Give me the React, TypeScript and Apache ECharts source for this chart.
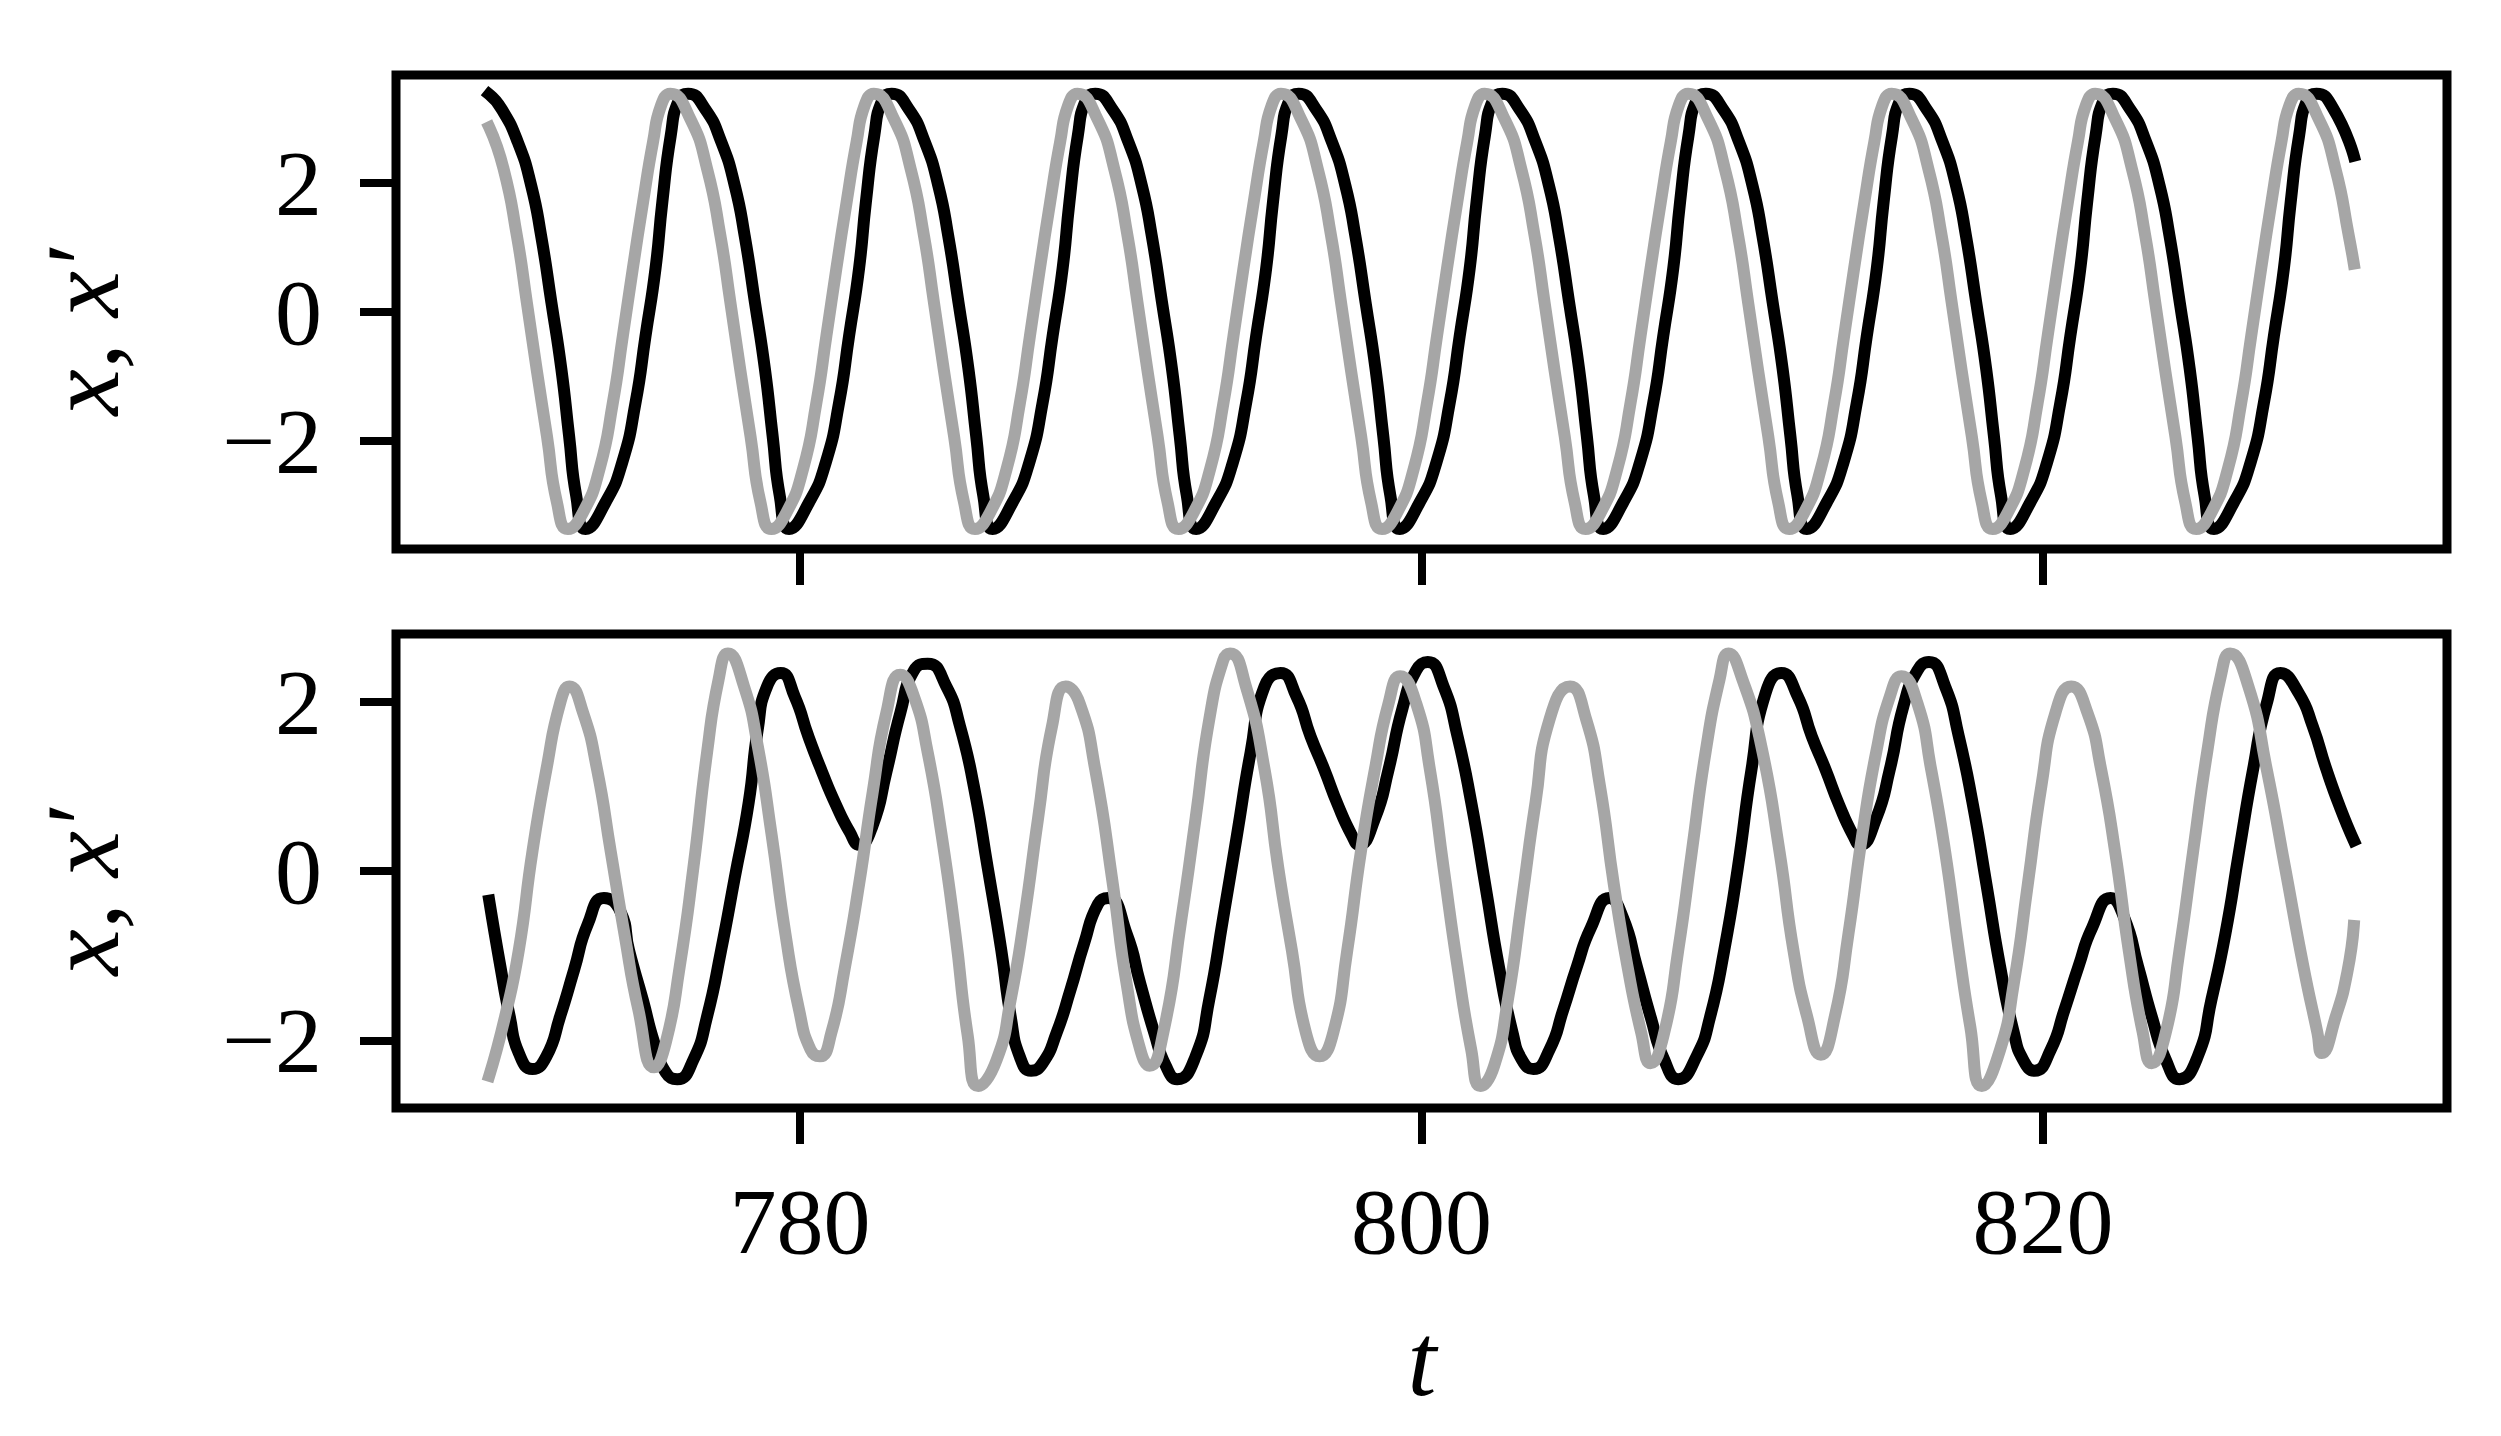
import React, { useEffect, useRef } from "react";
import * as echarts from "echarts";

// ---- data (t, value) ----
const xTicks = [780, 800, 820];
const yTicks = [-2, 0, 2];

const topBlack: number[][] = [
  [770.0, 3.37], [770.39, 3.15], [770.92, 2.63], [771.35, 1.96], [771.67, 1.18], [772.0, 0.15], [772.32, -0.88], [772.57, -1.92], [772.8, -2.85], [773.1, -3.36],
  [773.74, -2.95], [774.28, -2.33], [774.71, -1.4], [775.03, -0.37], [775.35, 0.67], [775.57, 1.7], [775.84, 2.73], [776.1, 3.28], [776.4, 3.38],
  [776.94, 3.15], [777.47, 2.63], [777.9, 1.96], [778.22, 1.18], [778.55, 0.15], [778.87, -0.88], [779.12, -1.92], [779.35, -2.85], [779.65, -3.36],
  [780.29, -2.95], [780.83, -2.33], [781.26, -1.4], [781.58, -0.37], [781.9, 0.67], [782.12, 1.7], [782.39, 2.73], [782.65, 3.28], [782.95, 3.38],
  [783.49, 3.15], [784.02, 2.63], [784.45, 1.96], [784.77, 1.18], [785.1, 0.15], [785.42, -0.88], [785.67, -1.92], [785.9, -2.85], [786.2, -3.36],
  [786.84, -2.95], [787.38, -2.33], [787.81, -1.4], [788.13, -0.37], [788.45, 0.67], [788.67, 1.7], [788.94, 2.73], [789.2, 3.28], [789.5, 3.38],
  [790.04, 3.15], [790.57, 2.63], [791.0, 1.96], [791.32, 1.18], [791.65, 0.15], [791.97, -0.88], [792.22, -1.92], [792.45, -2.85], [792.75, -3.36],
  [793.39, -2.95], [793.93, -2.33], [794.36, -1.4], [794.68, -0.37], [795.0, 0.67], [795.22, 1.7], [795.49, 2.73], [795.75, 3.28], [796.05, 3.38],
  [796.59, 3.15], [797.12, 2.63], [797.55, 1.96], [797.87, 1.18], [798.2, 0.15], [798.52, -0.88], [798.77, -1.92], [799.0, -2.85], [799.3, -3.36],
  [799.94, -2.95], [800.48, -2.33], [800.91, -1.4], [801.23, -0.37], [801.55, 0.67], [801.77, 1.7], [802.04, 2.73], [802.3, 3.28], [802.6, 3.38],
  [803.14, 3.15], [803.67, 2.63], [804.1, 1.96], [804.42, 1.18], [804.75, 0.15], [805.07, -0.88], [805.32, -1.92], [805.55, -2.85], [805.85, -3.36],
  [806.49, -2.95], [807.03, -2.33], [807.46, -1.4], [807.78, -0.37], [808.1, 0.67], [808.32, 1.7], [808.59, 2.73], [808.85, 3.28], [809.15, 3.38],
  [809.69, 3.15], [810.22, 2.63], [810.65, 1.96], [810.97, 1.18], [811.3, 0.15], [811.62, -0.88], [811.87, -1.92], [812.1, -2.85], [812.4, -3.36],
  [813.04, -2.95], [813.58, -2.33], [814.01, -1.4], [814.33, -0.37], [814.65, 0.67], [814.87, 1.7], [815.14, 2.73], [815.4, 3.28], [815.7, 3.38],
  [816.24, 3.15], [816.77, 2.63], [817.2, 1.96], [817.52, 1.18], [817.85, 0.15], [818.17, -0.88], [818.42, -1.92], [818.65, -2.85], [818.95, -3.36],
  [819.59, -2.95], [820.13, -2.33], [820.56, -1.4], [820.88, -0.37], [821.2, 0.67], [821.42, 1.7], [821.69, 2.73], [821.95, 3.28], [822.25, 3.38],
  [822.79, 3.15], [823.32, 2.63], [823.75, 1.96], [824.07, 1.18], [824.4, 0.15], [824.72, -0.88], [824.97, -1.92], [825.2, -2.85], [825.5, -3.36],
  [826.14, -2.95], [826.68, -2.33], [827.11, -1.4], [827.43, -0.37], [827.75, 0.67], [827.97, 1.7], [828.24, 2.73], [828.5, 3.28], [828.8, 3.38],
  [829.34, 3.15], [830.0, 2.42],
];

const topGray: number[][] = [
  [770.0, 2.86], [770.46, 2.22], [770.89, 1.18], [771.21, 0.15], [771.53, -0.9], [771.86, -1.93], [772.18, -2.95], [772.53, -3.36],
  [773.01, -3.11], [773.55, -2.43], [773.98, -1.4], [774.3, -0.37], [774.62, 0.67], [774.95, 1.7], [775.27, 2.63], [775.53, 3.2], [775.83, 3.38],
  [776.47, 2.99], [777.01, 2.22], [777.44, 1.18], [777.76, 0.15], [778.08, -0.9], [778.41, -1.93], [778.73, -2.95], [779.08, -3.36],
  [779.56, -3.11], [780.1, -2.43], [780.53, -1.4], [780.85, -0.37], [781.17, 0.67], [781.5, 1.7], [781.82, 2.63], [782.08, 3.2], [782.38, 3.38],
  [783.02, 2.99], [783.56, 2.22], [783.99, 1.18], [784.31, 0.15], [784.63, -0.9], [784.96, -1.93], [785.28, -2.95], [785.63, -3.36],
  [786.11, -3.11], [786.65, -2.43], [787.08, -1.4], [787.4, -0.37], [787.72, 0.67], [788.05, 1.7], [788.37, 2.63], [788.63, 3.2], [788.93, 3.38],
  [789.57, 2.99], [790.11, 2.22], [790.54, 1.18], [790.86, 0.15], [791.18, -0.9], [791.51, -1.93], [791.83, -2.95], [792.18, -3.36],
  [792.66, -3.11], [793.2, -2.43], [793.63, -1.4], [793.95, -0.37], [794.27, 0.67], [794.6, 1.7], [794.92, 2.63], [795.18, 3.2], [795.48, 3.38],
  [796.12, 2.99], [796.66, 2.22], [797.09, 1.18], [797.41, 0.15], [797.73, -0.9], [798.06, -1.93], [798.38, -2.95], [798.73, -3.36],
  [799.21, -3.11], [799.75, -2.43], [800.18, -1.4], [800.5, -0.37], [800.82, 0.67], [801.15, 1.7], [801.47, 2.63], [801.73, 3.2], [802.03, 3.38],
  [802.67, 2.99], [803.21, 2.22], [803.64, 1.18], [803.96, 0.15], [804.28, -0.9], [804.61, -1.93], [804.93, -2.95], [805.28, -3.36],
  [805.76, -3.11], [806.3, -2.43], [806.73, -1.4], [807.05, -0.37], [807.37, 0.67], [807.7, 1.7], [808.02, 2.63], [808.28, 3.2], [808.58, 3.38],
  [809.22, 2.99], [809.76, 2.22], [810.19, 1.18], [810.51, 0.15], [810.83, -0.9], [811.16, -1.93], [811.48, -2.95], [811.83, -3.36],
  [812.31, -3.11], [812.85, -2.43], [813.28, -1.4], [813.6, -0.37], [813.92, 0.67], [814.25, 1.7], [814.57, 2.63], [814.83, 3.2], [815.13, 3.38],
  [815.77, 2.99], [816.31, 2.22], [816.74, 1.18], [817.06, 0.15], [817.38, -0.9], [817.71, -1.93], [818.03, -2.95], [818.38, -3.36],
  [818.86, -3.11], [819.4, -2.43], [819.83, -1.4], [820.15, -0.37], [820.47, 0.67], [820.8, 1.7], [821.12, 2.63], [821.38, 3.2], [821.68, 3.38],
  [822.32, 2.99], [822.86, 2.22], [823.29, 1.18], [823.61, 0.15], [823.93, -0.9], [824.26, -1.93], [824.58, -2.95], [824.93, -3.36],
  [825.41, -3.11], [825.95, -2.43], [826.38, -1.4], [826.7, -0.37], [827.02, 0.67], [827.35, 1.7], [827.67, 2.63], [827.93, 3.2], [828.23, 3.38],
  [828.87, 2.99], [829.41, 2.22], [829.84, 1.18], [830.0, 0.75],
];

const bottomBlack: number[][] = [
  [770.0, -0.35], [770.36, -1.13], [770.66, -1.72], [770.95, -2.15], [771.39, -2.34], [771.84, -2.19], [772.28, -1.72], [772.73, -1.17], [773.17, -0.63], [773.69, -0.32],
  [774.21, -0.47], [774.5, -0.94], [774.94, -1.52], [775.31, -2.03], [775.68, -2.38], [776.05, -2.46], [776.57, -2.23], [777.01, -1.72], [777.46, -0.94], [777.9, -0.08],
  [778.35, 0.81], [778.64, 1.67], [778.94, 2.18], [779.38, 2.34], [779.83, 2.06], [780.27, 1.59], [780.71, 1.17], [781.16, 0.78], [781.6, 0.46], [781.9, 0.31],
  [782.34, 0.54], [782.78, 1.17], [783.23, 1.87], [783.67, 2.37], [784.11, 2.45], [784.71, 2.18], [785.15, 1.71], [785.59, 1.01], [786.04, 0.04], [786.48, -0.94],
  [786.78, -1.72], [787.07, -2.19], [787.44, -2.36], [787.81, -2.27], [788.26, -1.91], [788.7, -1.41], [789.14, -0.86], [789.59, -0.39], [789.92, -0.32], [790.51, -0.74],
  [790.95, -1.33], [791.4, -1.91], [791.77, -2.3], [792.14, -2.46], [792.73, -2.19], [793.17, -1.52], [793.62, -0.55], [794.06, 0.42], [794.5, 1.4], [794.95, 2.18],
  [795.46, 2.34], [795.98, 2.06], [796.43, 1.59], [796.87, 1.2], [797.31, 0.78], [797.76, 0.42], [797.98, 0.31], [798.5, 0.62], [798.94, 1.2], [799.38, 1.91],
  [799.83, 2.37], [800.2, 2.47], [800.71, 2.18], [801.16, 1.59], [801.6, 0.81], [802.05, -0.16], [802.49, -1.13], [802.93, -1.91], [803.23, -2.23], [803.6, -2.34],
  [804.12, -2.11], [804.56, -1.64], [805.0, -1.13], [805.45, -0.67], [806.04, -0.32], [806.48, -0.55], [806.93, -1.13], [807.37, -1.72], [807.81, -2.23], [808.26, -2.46],
  [808.85, -2.19], [809.29, -1.72], [809.74, -0.94], [810.18, 0.04], [810.62, 1.2], [811.07, 2.1], [811.58, 2.34], [812.11, 2.06], [812.56, 1.59], [813.0, 1.2],
  [813.44, 0.78], [813.89, 0.42], [814.11, 0.31], [814.63, 0.62], [815.07, 1.2], [815.51, 1.95], [815.96, 2.37], [816.33, 2.47], [816.85, 2.18], [817.29, 1.59],
  [817.73, 0.81], [818.18, -0.16], [818.62, -1.13], [819.06, -1.91], [819.36, -2.23], [819.73, -2.36], [820.25, -2.11], [820.69, -1.64], [821.14, -1.13], [821.58, -0.67],
  [822.17, -0.32], [822.61, -0.55], [823.06, -1.13], [823.5, -1.72], [823.95, -2.23], [824.39, -2.46], [824.98, -2.19], [825.42, -1.52], [825.87, -0.74], [826.31, 0.23],
  [826.76, 1.2], [827.2, 1.98], [827.64, 2.34], [828.23, 2.1], [828.68, 1.71], [829.12, 1.2], [829.57, 0.74], [830.0, 0.36],
];

const bottomGray: number[][] = [
  [770.0, -2.42], [770.51, -1.72], [770.95, -0.94], [771.39, 0.23], [771.84, 1.2], [772.28, 1.98], [772.58, 2.18], [773.02, 1.87], [773.47, 1.2], [773.91, 0.23],
  [774.35, -0.74], [774.8, -1.64], [775.31, -2.32], [775.68, -2.03], [776.13, -1.13], [776.57, 0.04], [777.01, 1.4], [777.38, 2.26], [777.68, 2.57],
  [778.2, 2.18], [778.64, 1.48], [779.09, 0.42], [779.53, -0.74], [779.97, -1.64], [780.34, -2.11], [780.64, -2.19], [781.01, -1.91], [781.45, -1.13], [781.9, -0.16],
  [782.34, 0.93], [782.78, 1.87], [783.23, 2.32], [783.67, 2.06], [784.11, 1.4], [784.56, 0.42], [785.0, -0.74], [785.4, -1.95], [785.74, -2.54], [786.33, -2.23],
  [786.78, -1.52], [787.22, -0.55], [787.66, 0.62], [788.11, 1.71], [788.55, 2.18], [789.0, 1.98], [789.5, 1.2], [790.07, -0.16], [790.51, -1.33], [790.95, -2.11],
  [791.25, -2.3], [791.69, -1.91], [792.28, -0.55], [792.73, 0.62], [793.17, 1.79], [793.62, 2.49], [793.84, 2.57], [794.35, 2.18], [794.95, 1.2], [795.39, 0.04],
  [795.83, -0.94], [796.28, -1.91], [796.72, -2.19], [797.16, -1.91], [797.61, -0.94], [798.05, 0.23], [798.5, 1.2], [798.94, 1.98], [799.31, 2.3], [799.83, 1.98],
  [800.27, 1.2], [800.71, 0.04], [801.16, -1.13], [801.6, -2.11], [801.9, -2.54], [802.34, -2.3], [802.78, -1.52], [803.23, -0.35], [803.67, 0.81], [804.12, 1.79],
  [804.78, 2.18], [805.3, 1.79], [805.74, 1.01], [806.19, -0.16], [806.63, -1.13], [807.07, -1.91], [807.37, -2.27], [807.81, -1.91], [808.26, -0.94], [808.7, 0.23],
  [809.14, 1.4], [809.59, 2.26], [809.88, 2.57], [810.33, 2.26], [810.92, 1.5], [811.52, 0.23], [811.97, -0.94], [812.41, -1.72], [812.85, -2.17], [813.3, -1.72],
  [813.74, -0.74], [814.18, 0.42], [814.63, 1.4], [815.07, 2.06], [815.44, 2.3], [815.96, 1.98], [816.4, 1.2], [816.85, 0.23], [817.29, -0.94], [817.66, -1.84],
  [818.03, -2.54], [818.62, -2.11], [819.06, -1.33], [819.51, -0.16], [819.95, 1.01], [820.4, 1.87], [820.91, 2.18], [821.43, 1.87], [821.87, 1.2], [822.32, 0.23],
  [822.76, -0.94], [823.21, -1.91], [823.5, -2.27], [823.95, -1.91], [824.39, -0.94], [824.83, 0.23], [825.28, 1.4], [825.72, 2.3], [826.02, 2.57], [826.61, 2.18],
  [827.2, 1.2], [827.79, 0.04], [828.38, -1.13], [828.83, -1.91], [828.97, -2.15], [829.42, -1.72], [829.79, -1.2], [830.0, -0.65],
];

const X_MIN = 767;
const X_MAX = 833;
const TOP_Y = 3.67;
const BOTTOM_Y = 2.8;

const SERIF = "'Liberation Serif', 'Times New Roman', serif";
const BLACK = "#000000";
const GRAY = "#a6a6a6";

export default function App() {
  const ref = useRef<HTMLDivElement>(null);

  useEffect(() => {
    if (!ref.current) return;
    const chart = echarts.init(ref.current, null, { renderer: "svg", width: 2501, height: 1436 });

    const grid = (top: number) => ({
      left: 396,
      top,
      width: 2051,
      height: 474,
      show: true,
      borderColor: "#000",
      borderWidth: 9,
      backgroundColor: "transparent",
      containLabel: false,
    });

    const xAxis = (gridIndex: number, labels: boolean) => ({
      type: "value",
      gridIndex,
      min: X_MIN,
      max: X_MAX,
      position: "bottom",
      axisLine: { show: false, onZero: false },
      splitLine: { show: false },
      axisTick: {
        show: true,
        customValues: xTicks,
        length: 36,
        lineStyle: { color: "#000", width: 8 },
      },
      axisLabel: {
        show: labels,
        customValues: xTicks,
        margin: 66,
        fontFamily: SERIF,
        fontSize: 94,
        color: "#000",
      },
    });

    const yAxis = (gridIndex: number, lim: number) => ({
      type: "value",
      gridIndex,
      min: -lim,
      max: lim,
      position: "left",
      axisLine: { show: false, onZero: false },
      splitLine: { show: false },
      axisTick: {
        show: true,
        customValues: yTicks,
        length: 36,
        lineStyle: { color: "#000", width: 8 },
      },
      axisLabel: {
        show: true,
        customValues: yTicks,
        margin: 74,
        fontFamily: SERIF,
        fontSize: 94,
        color: "#000",
        padding: [14, 0, 0, 0],
        formatter: (v: number) => (v < 0 ? "\u2212" + Math.abs(v) : String(v)),
      },
    });

    const line = (data: number[][], color: string, idx: number, z: number) => ({
      type: "line",
      xAxisIndex: idx,
      yAxisIndex: idx,
      data,
      showSymbol: false,
      smooth: 0.55,
      z,
      lineStyle: { color, width: 12, cap: "square", join: "round" },
    });

    const label = (x: number, y: number, text: string, rotate: boolean) => ({
      type: "text",
      x,
      y,
      rotation: rotate ? Math.PI / 2 : 0,
      style: {
        text,
        font: `italic 104px ${SERIF}`,
        fill: "#000",
        textAlign: "center",
        textVerticalAlign: "middle",
      },
    });

    const option: any = {
      animation: false,
      backgroundColor: "#ffffff",
      grid: [grid(75), grid(634)],
      xAxis: [xAxis(0, false), xAxis(1, true)],
      yAxis: [yAxis(0, TOP_Y), yAxis(1, BOTTOM_Y)],
      series: [
        line(topBlack, BLACK, 0, 2),
        line(topGray, GRAY, 0, 3),
        line(bottomBlack, BLACK, 1, 2),
        line(bottomGray, GRAY, 1, 3),
      ],
      graphic: [
        label(82, 332, "x, x\u2032", true),
        label(82, 892, "x, x\u2032", true),
        label(1422, 1359, "t", false),
      ],
    };

    chart.setOption(option);
    return () => chart.dispose();
  }, []);

  return (
    <div
      ref={ref}
      style={{ position: "fixed", left: 0, top: 0, width: 2501, height: 1436, background: "#fff" }}
    />
  );
}
